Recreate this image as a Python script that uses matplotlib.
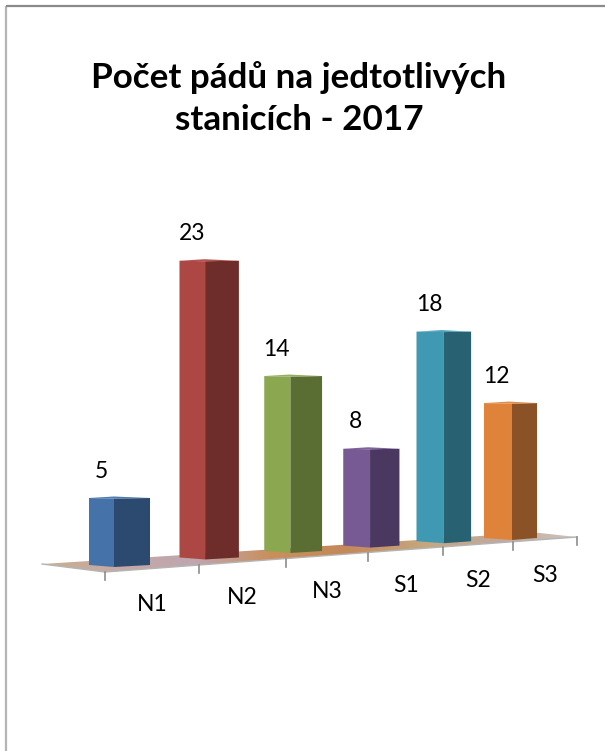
import numpy as np
import matplotlib
matplotlib.use('Agg')
import matplotlib.pyplot as plt
from matplotlib.colors import LinearSegmentedColormap
from matplotlib.patches import Polygon

# Данные
categories = ['N1', 'N2', 'N3', 'S1', 'S2', 'S3']
values = [5, 23, 14, 8, 18, 12]
front_colors = ['#4573A9', '#AD4744', '#8BA850', '#775A93', '#4099B3', '#DF833A']
side_colors = ['#2C4A70', '#6E2C2A', '#5A6E34', '#4A3860', '#286272', '#8A5226']
top_colors = ['#4F7BAE', '#B5534F', '#93AE5C', '#80639B', '#4DA1B9', '#E28C48']
title_lines = ['Počet pádů na jedtotlivých', 'stanicích - 2017']

plt.rcParams['font.family'] = ['Lato', 'DejaVu Sans']


# Проекция "3D" пола на пиксели рисунка
def edge_x(i):
    return 105 + 93.6 * i - 3 * i * (i - 1)


def edge_y(x):
    return 572 - 0.0742 * (x - 105)


def bar_left(i):
    return 89 + 90.5 * i - 2.875 * i * (i - 1)


def bar_base(i):
    return 567 - 8.07 * i + 0.533 * i * i


def bar_height(i, v):
    return 2.5 + v * (13.3 - 0.42 * i)


fig = plt.figure(figsize=(6.05, 7.51), dpi=100)
ax = fig.add_axes([0, 0, 1, 1])
ax.set_xlim(0, 605)
ax.set_ylim(751, 0)
ax.axis('off')

# Рамка
ax.plot([5.5, 5.5], [751, 5.5], color='#b5b5b5', lw=1.6, solid_capstyle='butt')
ax.plot([5.5, 605], [5.5, 5.5], color='#8a8a8a', lw=1.6, solid_capstyle='butt')

ax.text(299, 78, title_lines[0], ha='center', va='center', fontsize=25.2, fontweight='bold', color='black')
ax.text(299, 120, title_lines[1], ha='center', va='center', fontsize=25.2, fontweight='bold', color='black')

# Пол с градиентом
floor = Polygon([(42, 564), (105, 572), (edge_x(6), edge_y(edge_x(6))), (535, 532.5)],
                closed=True, facecolor='none', edgecolor='none')
ax.add_patch(floor)
cmap = LinearSegmentedColormap.from_list('floor', ['#c9b08f', '#c4a9a6', '#bfa6b0', '#c98f5c',
                                                   '#c4895a', '#c6a77e', '#c0a9a0', '#cfc4bc'])
img = ax.imshow(np.linspace(0, 1, 256).reshape(1, -1), cmap=cmap, aspect='auto',
                extent=(42, 578, 573, 532), zorder=1)
img.set_clip_path(floor)
ax.set_xlim(0, 605)
ax.set_ylim(751, 0)
ax.plot([42, 105, edge_x(6)], [564, 572, edge_y(edge_x(6))], color='#b4b4b4', lw=1.0, zorder=2)

# Деления и подписи категорий
for i in range(7):
    x = edge_x(i)
    y = edge_y(x)
    ax.plot([x, x], [y, y + 8], color='#8c8c8c', lw=1.2, zorder=2)
for i, name in enumerate(categories):
    x = (edge_x(i) + edge_x(i + 1)) / 2
    ax.text(x, edge_y(x) + 36, name, ha='center', va='center', fontsize=16.5, color='black')

# Столбцы
for i, v in enumerate(values):
    left = bar_left(i)
    mid = left + 25 + 0.6 * i
    right = mid + 36 - 2.2 * i
    base = bar_base(i)
    h = bar_height(i, v)
    top = base - h
    ax.add_patch(Polygon([(left, top), (mid, top + 0.5), (mid, base), (left, base - 2)],
                         facecolor=front_colors[i], edgecolor='none', zorder=3))
    ax.add_patch(Polygon([(mid, top + 0.5), (right, top), (right, base - 2), (mid, base)],
                         facecolor=side_colors[i], edgecolor='none', zorder=3))
    ax.add_patch(Polygon([(left, top), (left + 25, top - 1.5), (right, top), (mid, top + 0.5)],
                         facecolor=top_colors[i], edgecolor='none', zorder=3))
    ax.text(left + 12.5, top - 27, str(v), ha='center', va='center', fontsize=16.5, color='black')

fig.savefig('out.png', dpi=100)
